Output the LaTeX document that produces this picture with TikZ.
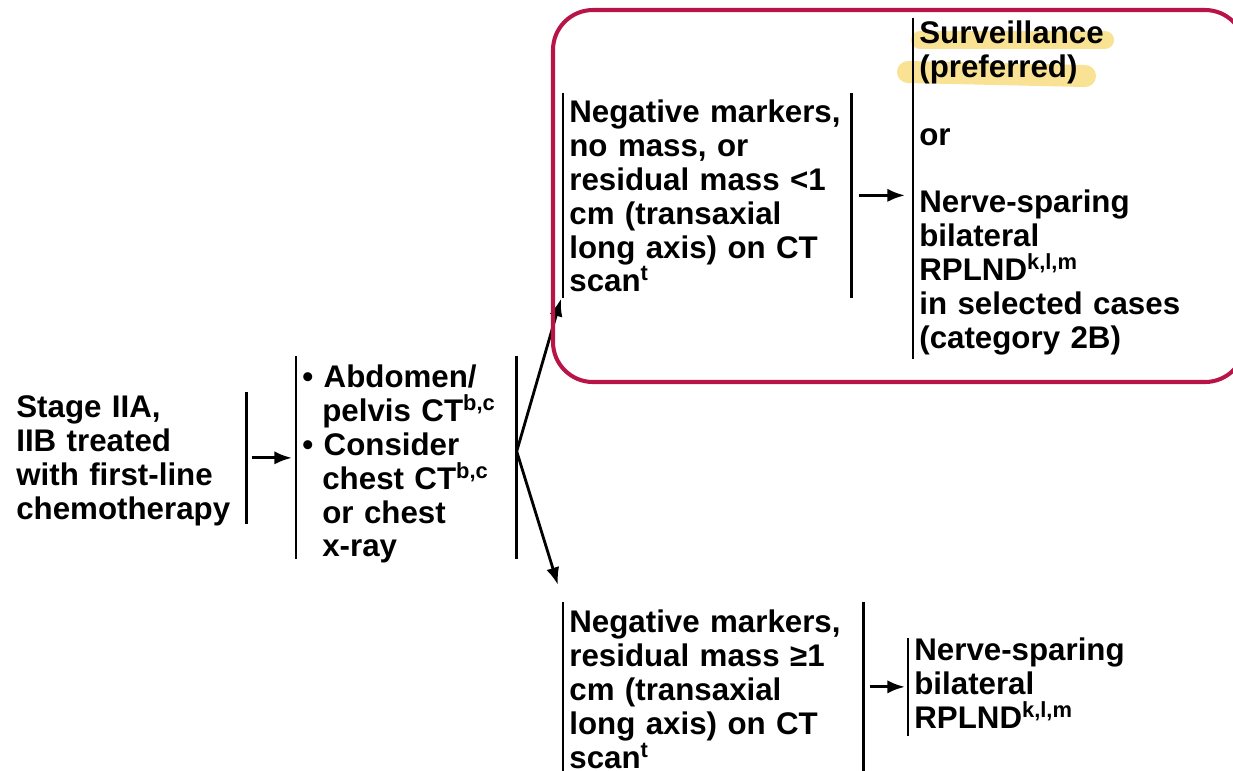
\documentclass[tikz,border=0pt]{standalone}
\usepackage{fontspec}
\setmainfont{Liberation Sans}
\usetikzlibrary{arrows.meta}
\definecolor{boxred}{RGB}{185,20,72}
\definecolor{marker}{RGB}{246,214,102}
\begin{document}
\begin{tikzpicture}[
  txt/.style={anchor=north west, inner xsep=0.12cm, inner ysep=0pt, align=left, font=\bfseries\fontsize{17.8}{19.3}\selectfont},
  arr/.style={line width=1.6pt, -{Latex[length=10pt,width=7.5pt]}},
  bar/.style={line width=1.5pt},
  hl/.style={marker, opacity=0.7, line cap=round}]
\useasboundingbox (0,0) rectangle (24.66,-15.4);

\draw[hl, line width=0.36cm] (18.4,-0.8) -- (22.1,-0.8);
\draw[hl, line width=0.44cm] (18.16,-1.44) -- (21.7,-1.52);

\node[txt, text width=4.48cm, text height=0.5cm, text depth=2.12cm] (stage) at (0.2,-7.84) {Stage IIA,\\IIB treated\\with first-line\\chemotherapy};
\node[txt, text width=4.16cm, text height=0.62cm, text depth=3.42cm] (imaging) at (5.92,-7.12) {\textbullet\ Abdomen/\\\hspace*{0.4cm}pelvis CT\textsuperscript{b,c}\\\textbullet\ Consider\\\hspace*{0.4cm}chest CT\textsuperscript{b,c}\\\hspace*{0.4cm}or chest\\\hspace*{0.4cm}x-ray};
\node[txt, text width=5.52cm, text height=0.58cm, text depth=3.5cm] (negA) at (11.26,-1.86) {Negative markers,\\no mass, or\\residual mass <1\\cm (transaxial\\long axis) on CT\\scan\textsuperscript{t}};
\node[txt, text width=7cm, text height=0.5cm, text depth=6.3cm] (surv) at (18.26,-0.36) {Surveillance\\(preferred)\\[19.3pt]or\\[19.3pt]Nerve-sparing\\bilateral\\RPLND\textsuperscript{k,l,m}\\in selected cases\\(category 2B)};
\node[txt, text width=5.76cm, text height=0.6cm, text depth=3.16cm] (negB) at (11.26,-12.04) {Negative markers,\\residual mass ≥1\\cm (transaxial\\long axis) on CT\\scan\textsuperscript{t}};
\node[txt, text width=6cm, text height=0.44cm, text depth=1.5cm] (bnsr) at (18.16,-12.76) {Nerve-sparing\\bilateral\\RPLND\textsuperscript{k,l,m}};

\draw[bar] (stage.north east) -- (stage.south east);
\foreach \n in {imaging,negA,negB}
  \draw[bar] (\n.north west) -- (\n.south west) (\n.north east) -- (\n.south east);
\foreach \n in {surv,bnsr}
  \draw[bar] (\n.north west) -- (\n.south west);

\draw[arr] ([xshift=0.1cm]stage.east) -- ([xshift=-0.08cm]stage.east -| imaging.west);
\draw[arr] ([yshift=0.12cm]imaging.east) -- ([xshift=-0.04cm,yshift=-0.02cm]negA.south west);
\draw[arr] ([yshift=0.12cm]imaging.east) -- ([xshift=-0.1cm,yshift=0.34cm]negB.north west);
\draw[arr] ([xshift=0.14cm]negA.east) -- ([xshift=-0.16cm]negA.east -| surv.west);
\draw[arr] ([xshift=0.12cm]bnsr.west -| negB.east) -- ([xshift=-0.06cm]bnsr.west);

\draw[boxred, line width=2.3pt, rounded corners=0.8cm] (11.06,-0.2) rectangle (24.9,-7.64);
\end{tikzpicture}
\end{document}
